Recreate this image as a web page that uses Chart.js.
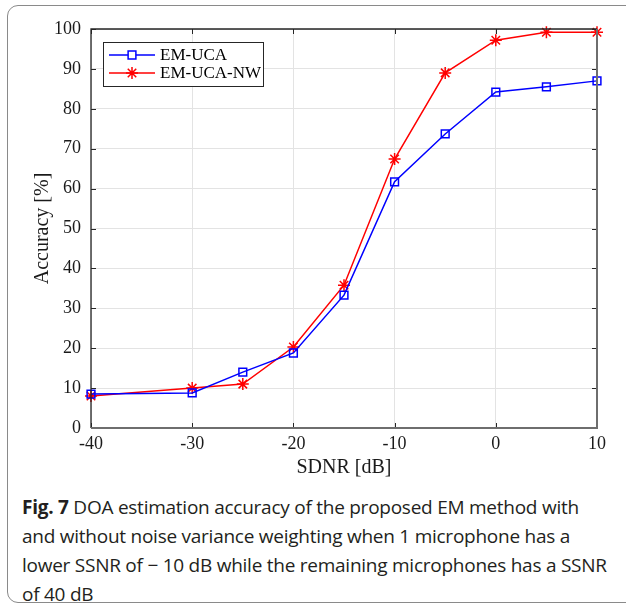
<!DOCTYPE html>
<html>
<head>
<meta charset="utf-8">
<script src="https://cdn.jsdelivr.net/npm/chart.js@4"></script>
<style>
  html, body { margin:0; padding:0; background:#fff; }
  body { width:626px; height:608px; position:relative; overflow:hidden; }
  #frame { position:absolute; left:7px; top:5px; width:640px; height:598px;
           border:1.5px solid #8a8a8a; border-radius:11px; box-sizing:border-box; }
  #wrap { position:absolute; left:0; top:0; width:626px; height:480px; }
  #caption { position:absolute; left:22px; top:493px; width:610px; white-space:nowrap;
             font-family:"Open Sans", sans-serif; font-size:19px; line-height:29px;
             color:#231f20; letter-spacing:-0.25px; }
  #caption b { font-weight:700; }
</style>
</head>
<body>
<div id="frame"></div>
<div id="wrap"><canvas id="c" width="626" height="480"></canvas></div>
<div id="caption"><b>Fig. 7</b> DOA estimation accuracy of the proposed EM method with<br>and without noise variance weighting when 1 microphone has a<br>lower SSNR of &minus; 10 dB while the remaining microphones has a SSNR<br>of 40 dB</div>
<script>
const sdnr = [-40, -30, -25, -20, -15, -10, -5, 0, 5, 10];
const emUca = [8.5, 8.8, 14.0, 18.8, 33.3, 61.7, 73.7, 84.2, 85.5, 87.0];
const emUcaNw = [8.0, 10.0, 11.0, 20.3, 35.8, 67.4, 89.0, 97.2, 99.2, 99.2];
const xTicks = [-40, -30, -20, -10, 0, 10];
const yTicks = [0, 10, 20, 30, 40, 50, 60, 70, 80, 90, 100];
const seriesNames = ['EM-UCA', 'EM-UCA-NW'];

const serif = '"Liberation Serif", "Times New Roman", serif';

const boxPlugin = {
  id: 'boxPlugin',
  afterDatasetsDraw(chart) {
    const {ctx, chartArea: a, scales} = chart;
    ctx.save();
    ctx.strokeStyle = '#262626';
    ctx.lineWidth = 1;
    const tl = 5;
    xTicks.forEach(v => {
      const x = Math.round(scales.x.getPixelForValue(v)) + 0.5;
      ctx.beginPath();
      ctx.moveTo(x, a.bottom); ctx.lineTo(x, a.bottom - tl);
      ctx.moveTo(x, a.top); ctx.lineTo(x, a.top + tl);
      ctx.stroke();
    });
    yTicks.forEach(v => {
      const y = Math.round(scales.y.getPixelForValue(v)) + 0.5;
      ctx.beginPath();
      ctx.moveTo(a.left, y); ctx.lineTo(a.left + tl, y);
      ctx.moveTo(a.right, y); ctx.lineTo(a.right - tl, y);
      ctx.stroke();
    });
    ctx.lineWidth = 1.3;
    ctx.strokeStyle = '#262626';
    ctx.beginPath();
    ctx.moveTo(a.left, a.bottom); ctx.lineTo(a.left, a.top); ctx.lineTo(a.right, a.top);
    ctx.stroke();
    ctx.strokeStyle = '#6e6e6e';
    ctx.lineWidth = 2;
    ctx.beginPath();
    ctx.moveTo(a.left, a.bottom); ctx.lineTo(a.right, a.bottom); ctx.lineTo(a.right, a.top);
    ctx.stroke();

    const lx = 103, ly = 42, lw = 160, lh = 44;
    ctx.fillStyle = '#fff';
    ctx.fillRect(lx, ly, lw, lh);
    ctx.strokeStyle = '#262626';
    ctx.lineWidth = 1;
    ctx.strokeRect(lx + 0.5, ly + 0.5, lw, lh);
    const ds = chart.data.datasets;
    ds.forEach((d, i) => {
      const cy = ly + 13 + i * 18;
      ctx.strokeStyle = d.borderColor;
      ctx.lineWidth = 1.5;
      ctx.beginPath();
      ctx.moveTo(lx + 6, cy); ctx.lineTo(lx + 52, cy);
      ctx.stroke();
      Chart.helpers.drawPoint(ctx, {pointStyle: d.pointStyle, radius: d.pointRadius, borderWidth: d.pointBorderWidth}, lx + 29, cy);
      ctx.fillStyle = '#000';
      ctx.font = '17px ' + serif;
      ctx.textBaseline = 'middle';
      ctx.textAlign = 'left';
      ctx.fillText(d.label, lx + 57, cy + 1);
    });
    ctx.restore();
  }
};

new Chart(document.getElementById('c'), {
  type: 'line',
  data: {
    datasets: [
      {
        label: seriesNames[0],
        data: sdnr.map((x, i) => ({x, y: emUca[i]})),
        borderColor: '#0000ff',
        backgroundColor: 'rgba(0,0,0,0)',
        pointBorderColor: '#0000ff',
        pointBackgroundColor: 'rgba(0,0,0,0)',
        borderWidth: 1.5,
        pointStyle: 'rect',
        pointRadius: 5.5,
        pointBorderWidth: 1.5,
        tension: 0,
        clip: false
      },
      {
        label: seriesNames[1],
        data: sdnr.map((x, i) => ({x, y: emUcaNw[i]})),
        borderColor: '#ff0000',
        backgroundColor: 'rgba(0,0,0,0)',
        pointBorderColor: '#ff0000',
        pointBackgroundColor: 'rgba(0,0,0,0)',
        borderWidth: 1.5,
        pointStyle: 'star',
        pointRadius: 6,
        pointBorderWidth: 1.5,
        tension: 0,
        clip: false
      }
    ]
  },
  options: {
    responsive: false,
    animation: false,
    events: [],
    layout: { padding: { left: 0, right: 29, top: 29, bottom: 0 } },
    plugins: { legend: { display: false }, tooltip: { enabled: false } },
    scales: {
      x: {
        type: 'linear', min: -40, max: 10,
        afterBuildTicks(s) { s.ticks = xTicks.map(v => ({value: v})); },
        afterFit(s) { s.height = 52; },
        grid: { color: '#e3e3e3', lineWidth: 1, drawTicks: false },
        border: { display: false },
        ticks: { color: '#1a1a1a', font: { family: serif, size: 18 }, padding: 5, maxRotation: 0 },
        title: { display: true, text: 'SDNR [dB]', color: '#1a1a1a', font: { family: serif, size: 20 }, padding: { top: 0, bottom: 0 } }
      },
      y: {
        type: 'linear', min: 0, max: 100,
        afterBuildTicks(s) { s.ticks = yTicks.map(v => ({value: v})); },
        afterFit(s) { s.width = 91; },
        grid: { color: '#e3e3e3', lineWidth: 1, drawTicks: false },
        border: { display: false },
        ticks: { color: '#1a1a1a', font: { family: serif, size: 18 }, padding: 10 },
        title: { display: true, text: 'Accuracy [%]', color: '#1a1a1a', font: { family: serif, size: 20 }, padding: { top: 31, bottom: 0 } }
      }
    }
  },
  plugins: [boxPlugin]
});
</script>
</body>
</html>
